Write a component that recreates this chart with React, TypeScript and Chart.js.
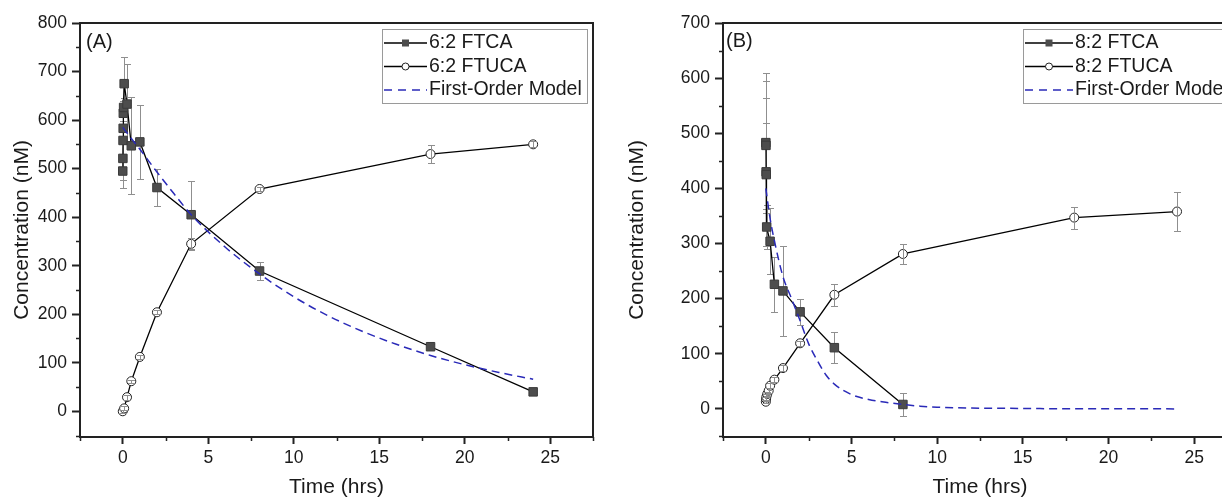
import React, { useEffect, useRef } from 'react';
import { Chart, registerables } from 'chart.js';

Chart.register(...registerables);

const FONT = "'Liberation Sans', Arial, Helvetica, sans-serif";
const AXIS = '#222222';
const TEXT = '#1a1a1a';
const BLUE = '#2a2ab8';

// ---------- Panel A (6:2) ----------
const timeA_FTCA = [0, 0.008, 0.017, 0.025, 0.033, 0.05, 0.083, 0.25, 0.5, 1, 2, 4, 8, 18, 24];
const valA_FTCA = [495, 521, 558, 583, 614, 626, 675, 633, 547, 555, 461, 405, 289, 133, 40];
const errA_FTCA = [35, 45, 40, 30, 25, 20, 55, 83, 100, 77, 38, 70, 18, 6, 6];

const timeA_FTUCA = [0, 0.083, 0.25, 0.5, 1, 2, 4, 8, 18, 24];
const valA_FTUCA = [0, 6, 29, 62, 112, 204, 345, 458, 530, 550];
const errA_FTUCA = [3, 4, 5, 3, 4, 4, 12, 5, 18, 6];

const timeA_Model = [0, 0.5, 1, 2, 3, 4, 6, 8, 10, 12, 14, 16, 18, 20, 22, 24];
const valA_Model = [585, 562, 540, 493, 448, 405, 338, 283, 236, 197, 165, 138, 115, 96, 80, 66];

// ---------- Panel B (8:2) ----------
const timeB_FTCA = [0, 0.008, 0.017, 0.025, 0.05, 0.25, 0.5, 1, 2, 4, 8];
const valB_FTCA = [483, 478, 430, 425, 330, 304, 226, 214, 176, 111, 8];
const errB_FTCA = [127, 116, 134, 93, 40, 60, 50, 82, 24, 28, 20];

const timeB_FTUCA = [0, 0.017, 0.033, 0.083, 0.167, 0.25, 0.5, 1, 2, 4, 8, 18, 24];
const valB_FTUCA = [13, 18, 22, 27, 33, 42, 53, 74, 119, 207, 281, 347, 358];
const errB_FTUCA = [3, 4, 5, 4, 4, 5, 4, 5, 5, 20, 18, 20, 35];

const timeB_Model = [0, 0.25, 0.5, 1, 1.5, 2, 2.5, 3, 3.5, 4, 5, 6, 7, 8, 9, 10, 12, 14, 16, 18, 20, 22, 24];
const valB_Model = [400, 345, 305, 240, 200, 160, 118, 88, 62, 45, 26, 17, 12, 8, 5, 3, 1.5, 1, 0.5, 0.3, 0.2, 0.1, 0];

// ---------- Axes ----------
const xTicks = [0, 5, 10, 15, 20, 25];
const xMinor = [-2.5, 2.5, 7.5, 12.5, 17.5, 22.5, 27.5];
const yTicksA = [0, 100, 200, 300, 400, 500, 600, 700, 800];
const yMinorA = [-50, 50, 150, 250, 350, 450, 550, 650, 750];
const yTicksB = [0, 100, 200, 300, 400, 500, 600, 700];
const yMinorB = [-50, 50, 150, 250, 350, 450, 550, 650];

const legendA = ['6:2 FTCA', '6:2 FTUCA', 'First-Order Model'];
const legendB = ['8:2 FTCA', '8:2 FTUCA', 'First-Order Model'];

const pts = (t: number[], v: number[]) => t.map((x, i) => ({ x, y: v[i] }));

const panelPlugin = {
  id: 'panel',
  beforeDatasetDraw(chart: any, args: any) {
    drawErr(chart, args.index, false);
  },
  afterDatasetDraw(chart: any, args: any) {
    drawErr(chart, args.index, true);
  },
  afterDraw(chart: any, _a: any, opts: any) {
    const ctx = chart.ctx;
    const ca = chart.chartArea;
    const xs = chart.scales.x;
    const ys = chart.scales.y;
    ctx.save();
    // frame top/right
    ctx.strokeStyle = AXIS;
    ctx.lineWidth = 2;
    ctx.beginPath();
    ctx.moveTo(ca.left - 1, ca.top);
    ctx.lineTo(ca.right, ca.top);
    ctx.lineTo(ca.right, ca.bottom + 1);
    ctx.stroke();
    // minor ticks
    ctx.lineWidth = 1.5;
    ctx.beginPath();
    (opts.yMinor || []).forEach((v: number) => {
      const y = Math.round(ys.getPixelForValue(v)) + 0.5;
      ctx.moveTo(ca.left, y);
      ctx.lineTo(ca.left - 4, y);
    });
    (opts.xMinor || []).forEach((v: number) => {
      const x = Math.round(xs.getPixelForValue(v)) + 0.5;
      ctx.moveTo(x, ca.bottom);
      ctx.lineTo(x, ca.bottom + 4);
    });
    ctx.stroke();
    // panel label
    ctx.fillStyle = TEXT;
    ctx.font = `20px ${FONT}`;
    ctx.textBaseline = 'middle';
    ctx.textAlign = 'left';
    ctx.fillText(opts.label, opts.labelX, opts.labelY);
    // legend
    const lg = opts.legend;
    ctx.strokeStyle = '#9a9a9a';
    ctx.lineWidth = 1;
    ctx.strokeRect(lg.x + 0.5, lg.y + 0.5, lg.w, lg.h);
    const rows = [lg.y + 14, lg.y + 37.5, lg.y + 61];
    const x0 = lg.x + 2;
    const x1 = lg.x + lg.textOffset - 2;
    const xm = (x0 + x1) / 2;
    ctx.font = `19.5px ${FONT}`;
    ctx.fillStyle = TEXT;
    lg.labels.forEach((txt: string, i: number) => {
      const y = rows[i];
      ctx.save();
      if (i < 2) {
        ctx.strokeStyle = '#000';
        ctx.lineWidth = 1.3;
        ctx.beginPath();
        ctx.moveTo(x0, y);
        ctx.lineTo(x1, y);
        ctx.stroke();
        if (i === 0) {
          ctx.fillStyle = '#4d4d4d';
          ctx.fillRect(xm - 3.5, y - 3.5, 7, 7);
        } else {
          ctx.fillStyle = '#fff';
          ctx.strokeStyle = '#222';
          ctx.lineWidth = 1;
          ctx.beginPath();
          ctx.arc(xm, y, 3.5, 0, Math.PI * 2);
          ctx.fill();
          ctx.stroke();
        }
      } else {
        ctx.strokeStyle = BLUE;
        ctx.lineWidth = 1.5;
        ctx.setLineDash([8, 6]);
        ctx.beginPath();
        ctx.moveTo(x0, y);
        ctx.lineTo(x1, y);
        ctx.stroke();
      }
      ctx.restore();
      ctx.fillStyle = TEXT;
      ctx.fillText(txt, lg.x + lg.textOffset, y);
    });
    ctx.restore();
  },
};

function drawErr(chart: any, index: number, above: boolean) {
  const ds = chart.data.datasets[index];
  if (!ds || !ds.errors || !!ds.errAbove !== above) return;
  const ctx = chart.ctx;
  const xs = chart.scales.x;
  const ys = chart.scales.y;
  ctx.save();
  ctx.strokeStyle = '#8f8f8f';
  ctx.lineWidth = 1;
  ctx.beginPath();
  ds.data.forEach((pt: any, i: number) => {
    const e = ds.errors[i];
    if (!e) return;
    const x = Math.round(xs.getPixelForValue(pt.x)) + 0.5;
    const y1 = Math.round(ys.getPixelForValue(pt.y + e)) + 0.5;
    const y2 = Math.round(ys.getPixelForValue(pt.y - e)) + 0.5;
    ctx.moveTo(x, y1);
    ctx.lineTo(x, y2);
    ctx.moveTo(x - 3.5, y1);
    ctx.lineTo(x + 3.5, y1);
    ctx.moveTo(x - 3.5, y2);
    ctx.lineTo(x + 3.5, y2);
  });
  ctx.stroke();
  ctx.restore();
}

type PanelSpec = {
  ftcaT: number[]; ftcaV: number[]; ftcaE: number[];
  ftucaT: number[]; ftucaV: number[]; ftucaE: number[];
  modelT: number[]; modelV: number[];
  legend: string[];
  yMin: number; yMax: number; yTicks: number[]; yMinor: number[];
  yWidth: number; padRight: number;
  label: string; labelX: number; labelY: number;
  legendBox: { x: number; y: number; w: number; h: number; textOffset: number };
  titlePad: number;
};

function buildConfig(p: PanelSpec): any {
  return {
    type: 'line',
    data: {
      datasets: [
        {
          label: p.legend[2],
          data: pts(p.modelT, p.modelV),
          borderColor: BLUE,
          borderDash: [8, 5],
          borderWidth: 1.5,
          pointRadius: 0,
          cubicInterpolationMode: 'monotone',
          fill: false,
          order: 0,
        },
        {
          label: p.legend[0],
          data: pts(p.ftcaT, p.ftcaV),
          errors: p.ftcaE,
          errAbove: false,
          borderColor: '#000',
          borderWidth: 1.3,
          pointStyle: 'rect',
          pointRadius: 6,
          pointBackgroundColor: '#4d4d4d',
          pointBorderColor: '#3a3a3a',
          pointBorderWidth: 1,
          fill: false,
          order: 2,
        },
        {
          label: p.legend[1],
          data: pts(p.ftucaT, p.ftucaV),
          errors: p.ftucaE,
          errAbove: true,
          borderColor: '#000',
          borderWidth: 1.3,
          pointStyle: 'circle',
          pointRadius: 4.5,
          pointBackgroundColor: '#fff',
          pointBorderColor: '#222',
          pointBorderWidth: 1,
          fill: false,
          order: 1,
        },
      ],
    },
    options: {
      responsive: false,
      animation: false,
      devicePixelRatio: 1,
      layout: { padding: { left: 0, top: 23, right: p.padRight, bottom: 0 } },
      plugins: {
        legend: { display: false },
        tooltip: { enabled: false },
        panel: {
          label: p.label,
          labelX: p.labelX,
          labelY: p.labelY,
          yMinor: p.yMinor,
          xMinor: xMinor,
          legend: { ...p.legendBox, labels: p.legend },
        },
      },
      scales: {
        x: {
          type: 'linear',
          min: -2.5,
          max: 27.5,
          afterBuildTicks: (s: any) => {
            s.ticks = xTicks.map((v) => ({ value: v }));
          },
          afterFit: (s: any) => {
            s.height = 63;
            s.paddingLeft = 0;
            s.paddingRight = 0;
          },
          border: { display: true, color: AXIS, width: 2 },
          grid: { display: true, drawOnChartArea: false, drawTicks: true, tickLength: 7, tickColor: AXIS, tickWidth: 2 },
          ticks: { color: TEXT, font: { family: FONT, size: 17.5 }, padding: 4, maxRotation: 0, autoSkip: false },
          title: { display: true, text: 'Time (hrs)', color: TEXT, font: { family: FONT, size: 21 }, padding: { top: 0, bottom: 0 } },
        },
        y: {
          type: 'linear',
          min: p.yMin,
          max: p.yMax,
          afterBuildTicks: (s: any) => {
            s.ticks = p.yTicks.map((v) => ({ value: v }));
          },
          afterFit: (s: any) => {
            s.width = p.yWidth;
            s.paddingTop = 0;
            s.paddingBottom = 0;
          },
          border: { display: true, color: AXIS, width: 2 },
          grid: { display: true, drawOnChartArea: false, drawTicks: true, tickLength: 8, tickColor: AXIS, tickWidth: 2 },
          ticks: { color: TEXT, font: { family: FONT, size: 17.5 }, padding: 5, autoSkip: false },
          title: { display: true, text: 'Concentration (nM)', color: TEXT, font: { family: FONT, size: 21 }, padding: { top: p.titlePad, bottom: 0 } },
        },
      },
    },
    plugins: [panelPlugin],
  };
}

const specA: PanelSpec = {
  ftcaT: timeA_FTCA, ftcaV: valA_FTCA, ftcaE: errA_FTCA,
  ftucaT: timeA_FTUCA, ftucaV: valA_FTUCA, ftucaE: errA_FTUCA,
  modelT: timeA_Model, modelV: valA_Model,
  legend: legendA,
  yMin: -53, yMax: 800, yTicks: yTicksA, yMinor: yMinorA,
  yWidth: 80, padRight: 19,
  label: '(A)', labelX: 86, labelY: 42,
  legendBox: { x: 382, y: 29, w: 205, h: 74, textOffset: 47 },
  titlePad: 9.5,
};

const specB: PanelSpec = {
  ftcaT: timeB_FTCA, ftcaV: valB_FTCA, ftcaE: errB_FTCA,
  ftucaT: timeB_FTUCA, ftucaV: valB_FTUCA, ftucaE: errB_FTUCA,
  modelT: timeB_Model, modelV: valB_Model,
  legend: legendB,
  yMin: -51, yMax: 700, yTicks: yTicksB, yMinor: yMinorB,
  yWidth: 111, padRight: 15,
  label: '(B)', labelX: 114, labelY: 41,
  legendBox: { x: 411, y: 29, w: 240, h: 74, textOffset: 52 },
  titlePad: 12.5,
};

function PanelChart({ spec, left, width }: { spec: PanelSpec; left: number; width: number }) {
  const ref = useRef<HTMLCanvasElement>(null);
  useEffect(() => {
    const chart = new Chart(ref.current as HTMLCanvasElement, buildConfig(spec));
    return () => chart.destroy();
  }, [spec]);
  return (
    <canvas
      ref={ref}
      width={width}
      height={500}
      style={{ position: 'absolute', left, top: 0, width, height: 500, display: 'block' }}
    />
  );
}

export default function App() {
  return (
    <div style={{ position: 'absolute', left: 0, top: 0, width: 1222, height: 500, overflow: 'hidden', background: '#fff' }}>
      <PanelChart spec={specA} left={0} width={612} />
      <PanelChart spec={specB} left={612} width={640} />
    </div>
  );
}
